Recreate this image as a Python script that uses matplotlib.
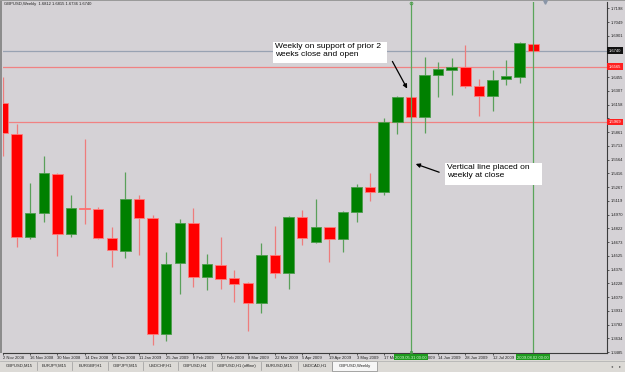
import matplotlib
matplotlib.use("Agg")
import matplotlib.pyplot as plt
from matplotlib.patches import Rectangle
from matplotlib.lines import Line2D
from matplotlib.transforms import blended_transform_factory

W, H = 625, 372
BG = "#d5d2d6"

# GBPUSD weekly candles, 2 Nov 2008 .. 2 Aug 2009
opens = [1.6175, 1.5840, 1.4727, 1.4987, 1.5408, 1.4760, 1.5041, 1.5030, 1.4717, 1.4576,
         1.5138, 1.4933, 1.3680, 1.4447, 1.4879, 1.4295, 1.4425, 1.4285, 1.4231, 1.4015,
         1.4533, 1.4339, 1.4943, 1.4673, 1.4835, 1.4706, 1.4997, 1.5267, 1.5213, 1.5969,
         1.6239, 1.6023, 1.6477, 1.6531, 1.6563, 1.6358, 1.6250, 1.6434, 1.6455, 1.6812]
highs = [1.6455, 1.5948, 1.5311, 1.5602, 1.5415, 1.5181, 1.5786, 1.5051, 1.4835, 1.5429,
         1.5181, 1.4965, 1.4565, 1.4922, 1.5041, 1.4544, 1.4727, 1.4371, 1.4241, 1.4663,
         1.4846, 1.4954, 1.5019, 1.5138, 1.4840, 1.5008, 1.5300, 1.5419, 1.6013, 1.6250,
         1.6250, 1.6671, 1.6617, 1.6661, 1.6801, 1.6434, 1.6531, 1.6639, 1.6833, 1.6815]
lows = [1.5602, 1.4619, 1.4706, 1.4889, 1.4522, 1.4727, 1.4868, 1.4706, 1.4403, 1.4501,
        1.4533, 1.3561, 1.3604, 1.4112, 1.4187, 1.4155, 1.4166, 1.4025, 1.3712, 1.3907,
        1.4285, 1.4166, 1.4641, 1.4663, 1.4457, 1.4565, 1.4889, 1.5116, 1.5181, 1.5840,
        1.5991, 1.5851, 1.6239, 1.6261, 1.6337, 1.6034, 1.6088, 1.6369, 1.6391, 1.6736]
closes = [1.5851, 1.4727, 1.4987, 1.5419, 1.4760, 1.5041, 1.5030, 1.4717, 1.4587, 1.5138,
          1.4933, 1.3680, 1.4436, 1.4879, 1.4295, 1.4436, 1.4274, 1.4220, 1.4015, 1.4533,
          1.4339, 1.4943, 1.4717, 1.4835, 1.4706, 1.4997, 1.5267, 1.5213, 1.5969, 1.6239,
          1.6023, 1.6477, 1.6542, 1.6563, 1.6358, 1.6250, 1.6423, 1.6466, 1.6823, 1.6740]

date_labels = ["2 Nov 2008", "16 Nov 2008", "30 Nov 2008", "14 Dec 2008", "28 Dec 2008",
               "11 Jan 2009", "25 Jan 2009", "8 Feb 2009", "22 Feb 2009", "8 Mar 2009",
               "22 Mar 2009", "5 Apr 2009", "19 Apr 2009", "3 May 2009", "17 May 2009",
               "31 May 2009", "14 Jun 2009", "28 Jun 2009", "12 Jul 2009", "26 Jul 2009"]

price_ticks = [1.3485, 1.3634, 1.3782, 1.3931, 1.4079, 1.4228, 1.4376, 1.4525, 1.4673,
               1.4822, 1.4970, 1.5119, 1.5267, 1.5416, 1.5564, 1.5713, 1.5861, 1.6010,
               1.6158, 1.6307, 1.6455, 1.6604, 1.6752, 1.6901, 1.7049, 1.7198]

last_price = closes[-1]
support_levels = [1.6565, 1.5969]
vline_bars = [30, 39]
vline_labels = ["2009.05.31 00:00", "2009.08.02 00:00"]

tabs = ["GBPUSD,M15", "EURJPY,M15", "EURGBP,H1", "GBPJPY,M15", "USDCHF,H1", "GBPUSD,H4",
        "GBPUSD,H1 (offline)", "EURUSD,M15", "USDCAD,H1", "GBPUSD,Weekly"]
tab_edges = [2, 37, 72, 108, 143, 178, 212, 261, 298, 332, 377]

small = dict(fontsize=3, family="Liberation Sans")
note = dict(fontsize=6, family="Liberation Sans", color="black")


def fx(px):
    return px / W


def fy(py):
    return 1 - py / H


fig = plt.figure(figsize=(W / 100, H / 100), dpi=100, facecolor=BG)
ax = fig.add_axes([fx(3), fy(353), 604 / W, 351 / H])
ax.set_facecolor(BG)
ax.set_xlim(0.007, 44.42)
ax.set_ylim(1.34746, 1.72654)
for s in ("left", "top"):
    ax.spines[s].set_visible(False)
for s in ("right", "bottom"):
    ax.spines[s].set_color("#3c3c3c")
    ax.spines[s].set_linewidth(0.8)

# level lines
ax.axhline(last_price, color="#98a2b2", lw=0.9, zorder=1)
for lvl in support_levels:
    ax.axhline(lvl, color="#f08282", lw=0.9, zorder=1)

# candles
for i in range(len(opens)):
    up = closes[i] >= opens[i]
    body = "#008000" if up else "#ff0000"
    edge = "#4c9c4c" if up else "#ff7a7a"
    wick = "#5aa05a" if up else "#ee7c7c"
    ax.vlines(i, lows[i], highs[i], color=wick, lw=0.9, zorder=2)
    lo = min(opens[i], closes[i])
    ax.add_patch(Rectangle((i - 0.385, lo), 0.77, abs(closes[i] - opens[i]),
                           fc=body, ec=edge, lw=0.6, zorder=3))

# vertical lines
ylo, yhi = ax.get_ylim()
for b in vline_bars:
    ax.axvline(b, color="#5aa55a", lw=0.9, zorder=4)
ax.plot([vline_bars[0]], [yhi - 0.001], marker="o", ms=2, mfc="none", mec="#4c9c4c",
        mew=0.6, clip_on=False, zorder=6)
ax.plot([vline_bars[0]], [ylo + 0.001], marker="s", ms=1.6, mfc="none", mec="#4c9c4c",
        mew=0.6, clip_on=False, zorder=6)

# price axis on the right; labels under the level boxes are left out, as MT4 does
boxed = [last_price] + support_levels
ax.yaxis.tick_right()
ax.set_yticks(price_ticks)
ax.set_yticklabels(["" if min(abs(v - b) for b in boxed) < 0.0055 else f"{v:.4f}"
                    for v in price_ticks], **small)
ax.tick_params(axis="y", length=1.5, width=0.5, pad=1.5, colors="#202020")

# date axis
ax.set_xticks(range(0, 2 * len(date_labels), 2))
ax.set_xticklabels(date_labels, ha="left", **small)
ax.tick_params(axis="x", length=1.5, width=0.5, pad=0.8, colors="#202020")

tr_y = blended_transform_factory(ax.transAxes, ax.transData)
ax.text(1.003, last_price, f"{last_price:.4f}", transform=tr_y, ha="left", va="center",
        color="white", bbox=dict(boxstyle="square,pad=0.35", fc="#111111", ec="none"),
        zorder=7, clip_on=False, **small)
for lvl in support_levels:
    ax.text(1.003, lvl, f"{lvl:.4f}", transform=tr_y, ha="left", va="center",
            color="white", bbox=dict(boxstyle="square,pad=0.35", fc="#ff2020", ec="none"),
            zorder=7, clip_on=False, **small)

tr_x = blended_transform_factory(ax.transData, ax.transAxes)
for b, lab in zip(vline_bars, vline_labels):
    ax.text(b, -0.013, lab, transform=tr_x, ha="center", va="center", color="#d8f4d8",
            bbox=dict(boxstyle="square,pad=0.3", fc="#1f9a1f", ec="none"),
            zorder=7, clip_on=False, **small)

# annotations
ax.add_patch(Rectangle((19.86, 1.6607), 8.38, 0.0226, fc="white", ec="none", zorder=5))
ax.text(20.01, 1.6822, "Weekly on support of prior 2\nweeks close and open", va="top",
        ha="left", linespacing=1.15, zorder=6, **note)
ax.annotate("", xy=(29.82, 1.6304), xytext=(28.54, 1.6650),
            arrowprops=dict(arrowstyle="-|>", color="black", lw=0.9, mutation_scale=6),
            zorder=6)

ax.add_patch(Rectangle((32.51, 1.5289), 7.13, 0.0238, fc="white", ec="none", zorder=5))
ax.text(32.65, 1.5515, "Vertical line placed on\nweekly at close", va="top",
        ha="left", linespacing=1.15, zorder=6, **note)
ax.annotate("", xy=(30.16, 1.5526), xytext=(32.27, 1.5417),
            arrowprops=dict(arrowstyle="-|>", color="black", lw=0.9, mutation_scale=6),
            zorder=6)

# window chrome
fig.add_artist(Rectangle((0, fy(353)), fx(2), 353 / H, transform=fig.transFigure,
                         fc="#8c8c8c", ec="none"))
fig.add_artist(Rectangle((0, fy(1)), 1, 1 / H, transform=fig.transFigure,
                         fc="#9a9a9a", ec="none"))
fig.add_artist(Line2D([fx(545)], [fy(1.5)], marker="v", ms=2.5, color="#8a96a8",
                      transform=fig.transFigure))
fig.text(fx(4), fy(4.5), f"GBPUSD,Weekly  {opens[-1]:.4f} {highs[-1]:.4f} "
         f"{lows[-1]:.4f} {closes[-1]:.4f}", va="center", ha="left", color="#202020",
         **small)

# tab bar
fig.add_artist(Rectangle((0, 0), 1, (H - 360) / H, transform=fig.transFigure,
                         fc="#dcdad6", ec="none"))
fig.add_artist(Line2D([0, 1], [fy(360.5), fy(360.5)], color="#b4b4b4", lw=0.6,
                      transform=fig.transFigure))
fig.add_artist(Line2D([0, 1], [fy(371.5), fy(371.5)], color="#a0a0a0", lw=0.6,
                      transform=fig.transFigure))
for k, name in enumerate(tabs):
    x0, x1 = tab_edges[k], tab_edges[k + 1]
    if k == len(tabs) - 1:
        fig.add_artist(Rectangle((fx(x0), fy(371)), (x1 - x0) / W, 10 / H,
                                 transform=fig.transFigure, fc="#f6f6f6", ec="#8a8a8a",
                                 lw=0.5))
    else:
        fig.add_artist(Line2D([fx(x1), fx(x1)], [fy(362), fy(370)], color="#9a9a9a",
                              lw=0.5, transform=fig.transFigure))
    fig.text(fx((x0 + x1) / 2), fy(366), name, ha="center", va="center",
             color="#202020", **small)
fig.text(fx(612), fy(366), "◂", ha="center", va="center", fontsize=3, color="#555555")
fig.text(fx(620), fy(366), "▸", ha="center", va="center", fontsize=3, color="#555555")

fig.savefig("out.png", dpi=100, facecolor=BG)
